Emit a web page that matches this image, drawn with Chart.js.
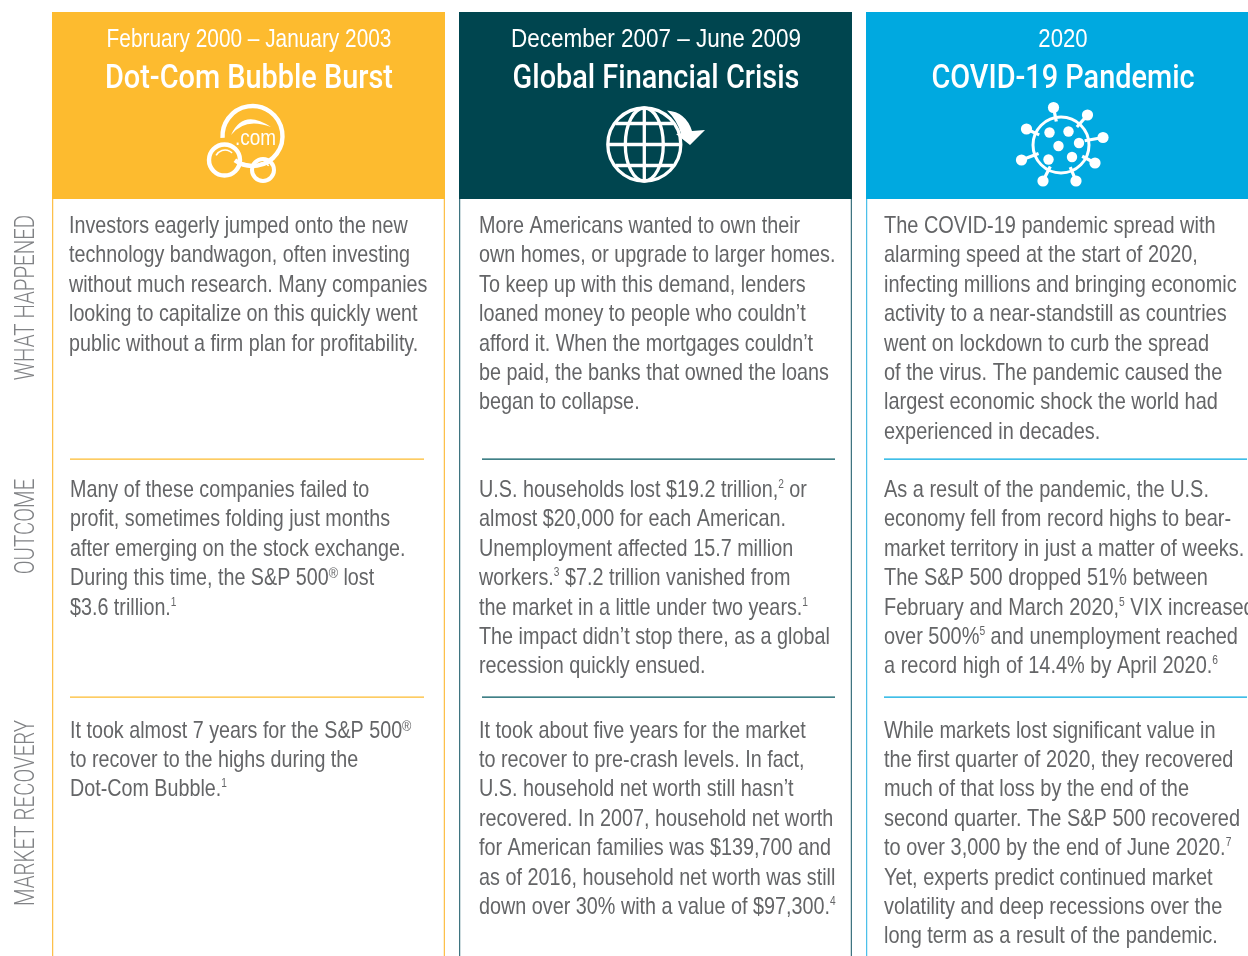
<!DOCTYPE html>
<html>
<head>
<meta charset="utf-8">
<title>Market crises compared</title>
<script src="https://cdn.jsdelivr.net/npm/chart.js@4/dist/chart.umd.js"></script>
<style>
  html, body { margin: 0; padding: 0; background: #fff; overflow: hidden; width: 1248px; height: 956px; }
  #wrap { width: 1266px; height: 956px; position: relative; }
</style>
</head>
<body>
<div id="wrap"><canvas id="crisisChart" width="1266" height="956"></canvas></div>
<script>
const crises = ['Dot-Com Bubble Burst', 'Global Financial Crisis', 'COVID-19 Pandemic'];
const periods = ['February 2000 \u2013 January 2003', 'December 2007 \u2013 June 2009', '2020'];
const rowLabels = ['WHAT HAPPENED', 'OUTCOME', 'MARKET RECOVERY'];

// row heights, same for each column
const headerRow = [187, 187, 187];
const happenedRow = [260, 260, 260];
const outcomeRow = [238, 238, 238];
const recoveryRow = [259, 259, 259];

// ^n^ marks a superscript
const happenedText = [
    ['Investors eagerly jumped onto the new', 'technology bandwagon, often investing', 'without much research. Many companies', 'looking to capitalize on this quickly went', 'public without a firm plan for profitability.'],
    ['More Americans wanted to own their', 'own homes, or upgrade to larger homes.', 'To keep up with this demand, lenders', 'loaned money to people who couldn\u2019t', 'afford it. When the mortgages couldn\u2019t', 'be paid, the banks that owned the loans', 'began to collapse.'],
    ['The COVID-19 pandemic spread with', 'alarming speed at the start of 2020,', 'infecting millions and bringing economic', 'activity to a near-standstill as countries', 'went on lockdown to curb the spread', 'of the virus. The pandemic caused the', 'largest economic shock the world had', 'experienced in decades.']
];
const outcomeText = [
    ['Many of these companies failed to', 'profit, sometimes folding just months', 'after emerging on the stock exchange.', 'During this time, the S&P 500^\u00ae^ lost', '$3.6 trillion.^1^'],
    ['U.S. households lost $19.2 trillion,^2^ or', 'almost $20,000 for each American.', 'Unemployment affected 15.7 million', 'workers.^3^ $7.2 trillion vanished from', 'the market in a little under two years.^1^', 'The impact didn\u2019t stop there, as a global', 'recession quickly ensued.'],
    ['As a result of the pandemic, the U.S.', 'economy fell from record highs to bear-', 'market territory in just a matter of weeks.', 'The S&P 500 dropped 51% between', 'February and March 2020,^5^ VIX increased', 'over 500%^5^ and unemployment reached', 'a record high of 14.4% by April 2020.^6^']
];
const recoveryText = [
    ['It took almost 7 years for the S&P 500^\u00ae^', 'to recover to the highs during the', 'Dot-Com Bubble.^1^'],
    ['It took about five years for the market', 'to recover to pre-crash levels. In fact,', 'U.S. household net worth still hasn\u2019t', 'recovered. In 2007, household net worth', 'for American families was $139,700 and', 'as of 2016, household net worth was still', 'down over 30% with a value of $97,300.^4^'],
    ['While markets lost significant value in', 'the first quarter of 2020, they recovered', 'much of that loss by the end of the', 'second quarter. The S&P 500 recovered', 'to over 3,000 by the end of June 2020.^7^', 'Yet, experts predict continued market', 'volatility and deep recessions over the', 'long term as a result of the pandemic.']
];

const headColors = ['#fdbb2f', '#00454f', '#00a9e0'];
const edgeColors = ['#fdc04a', '#3f7480', '#4cc0ea'];
const ruleColors = ['#fdbb2f', '#00565f', '#00a9e0'];
const FONT = '"Liberation Sans", Arial, sans-serif';
const HEAD_FONT = 'Roboto, "Liberation Sans", sans-serif';
const BODY_COLOR = '#646567';
const LINE_H = 29.4;
const BODY_X = [[69, 479, 884], [70, 479, 884], [70, 479, 884]];
const RULE_X = [[70, 424], [482, 835], [884, 1247]];
const BODY_SX = [0.843, 0.846, 0.853];
const PERIOD_SX = [0.833, 0.9, 0.886];

function drawScaled(ctx, text, x, y, font, color, sx) {
    ctx.save();
    ctx.translate(x, y);
    ctx.scale(sx, 1);
    ctx.font = font;
    ctx.fillStyle = color;
    ctx.textAlign = 'left';
    ctx.textBaseline = 'alphabetic';
    ctx.fillText(text, 0, 0);
    ctx.restore();
}

function drawCentered(ctx, text, cx, y, font, color, sx) {
    ctx.save();
    ctx.font = font;
    const w = ctx.measureText(text).width * sx;
    ctx.restore();
    drawScaled(ctx, text, cx - w / 2, y, font, color, sx);
}

function drawLine(ctx, line, x, y, sx) {
    const font = '23.4px ' + FONT;
    let pos = x;
    line.split('^').forEach((part, i) => {
        if (!part) return;
        const sup = i % 2 === 1;
        const reg = part === '\u00ae';
        const useFont = sup ? (reg ? '15px ' : '12px ') + FONT : font;
        ctx.save();
        ctx.font = useFont;
        const w = ctx.measureText(part).width * sx;
        ctx.restore();
        drawScaled(ctx, part, pos, sup ? y - (reg ? 7 : 9) : y, useFont, BODY_COLOR, sx);
        pos += w;
    });
}

function iconDotCom(ctx) {
    ctx.strokeStyle = '#fff';
    ctx.fillStyle = '#fff';
    ctx.lineCap = 'butt';
    ctx.lineWidth = 4.4;
    ctx.beginPath();
    ctx.arc(252.5, 136, 30, 2.2, Math.PI * 0.98, true);
    ctx.stroke();
    ctx.lineWidth = 4.4;
    ctx.beginPath();
    ctx.arc(224.5, 160, 15.5, 0, Math.PI * 2);
    ctx.stroke();
    ctx.lineWidth = 4;
    ctx.beginPath();
    ctx.arc(263, 170, 11, 0, Math.PI * 2);
    ctx.stroke();
    ctx.lineWidth = 3.5;
    ctx.beginPath();
    ctx.moveTo(240, 163.5);
    ctx.lineTo(252, 166);
    ctx.stroke();
    // highlights
    ctx.beginPath();
    ctx.moveTo(231, 135);
    ctx.quadraticCurveTo(243, 108, 271, 127);
    ctx.quadraticCurveTo(245, 117, 231, 135);
    ctx.fill();
    ctx.lineWidth = 1.6;
    ctx.beginPath();
    ctx.arc(225, 160, 10, Math.PI * 1.15, Math.PI * 1.75);
    ctx.stroke();
    ctx.beginPath();
    ctx.arc(263, 170, 7, Math.PI * 1.2, Math.PI * 1.8);
    ctx.stroke();
    drawScaled(ctx, '.com', 235, 145, '22px ' + FONT, '#fff', 0.86);
}

function iconGlobe(ctx) {
    const cx = 644.3, cy = 144.5, r = 36.5;
    ctx.strokeStyle = '#fff';
    ctx.fillStyle = '#fff';
    ctx.lineWidth = 3.3;
    ctx.beginPath();
    ctx.arc(cx, cy, r, 0, Math.PI * 2);
    ctx.stroke();
    ctx.beginPath();
    ctx.ellipse(cx, cy, 19, r, 0, 0, Math.PI * 2);
    ctx.stroke();
    ctx.beginPath();
    ctx.moveTo(cx, cy - r); ctx.lineTo(cx, cy + r);
    ctx.moveTo(cx - r, cy); ctx.lineTo(cx + r, cy);
    ctx.moveTo(cx - 29, cy - 21); ctx.lineTo(cx + 29, cy - 21);
    ctx.moveTo(cx - 29, cy + 21); ctx.lineTo(cx + 29, cy + 21);
    ctx.stroke();
    // arrow
    ctx.beginPath();
    ctx.moveTo(667, 110.5);
    ctx.quadraticCurveTo(686, 112, 692, 131);
    ctx.lineTo(705, 130);
    ctx.lineTo(690, 145);
    ctx.lineTo(676, 134);
    ctx.lineTo(681, 133.5);
    ctx.quadraticCurveTo(677, 120, 667, 110.5);
    ctx.fill();
}

function iconVirus(ctx) {
    const cx = 1061, cy = 145;
    const balls = [[1053.5, 107.5], [1087.5, 115], [1103, 137.5], [1095, 163], [1076, 181], [1043, 181], [1021.5, 160], [1026.5, 129]];
    const spots = [[1049.5, 132.5], [1068.5, 131.5], [1058.5, 146], [1079, 143], [1048.5, 159.5], [1072, 157]];
    ctx.strokeStyle = '#fff';
    ctx.fillStyle = '#fff';
    ctx.lineWidth = 3;
    ctx.beginPath();
    ctx.arc(cx, cy, 28, 0, Math.PI * 2);
    ctx.stroke();
    balls.forEach(b => {
        const a = Math.atan2(b[1] - cy, b[0] - cx);
        const px = cx + Math.cos(a) * 24, py = cy + Math.sin(a) * 24;
        ctx.lineWidth = 3.2;
        ctx.beginPath();
        ctx.moveTo(px, py);
        ctx.lineTo(b[0], b[1]);
        ctx.stroke();
        ctx.beginPath();
        ctx.arc(b[0], b[1], 5.6, 0, Math.PI * 2);
        ctx.fill();
    });
    spots.forEach(s => {
        ctx.beginPath();
        ctx.arc(s[0], s[1], 5.2, 0, Math.PI * 2);
        ctx.fill();
    });
}

// rules, row titles, header text and cell text all hang off the chart scales
const panelText = {
    id: 'panelText',
    afterDatasetsDraw(chart) {
        const ctx = chart.ctx;
        const yScale = chart.scales.y;
        const xScale = chart.scales.x;
        const ruleRows = [headerRow[0] + happenedRow[0], headerRow[0] + happenedRow[0] + outcomeRow[0]];

        crises.forEach((name, i) => {
            const cx = xScale.getPixelForValue(i);
            drawCentered(ctx, periods[i], cx + 0.5, 46.5, '25px ' + FONT, '#fff', PERIOD_SX[i]);
            drawCentered(ctx, name, cx + 0.5, 88, '500 33.5px ' + HEAD_FONT, '#fff', 0.862);

            ruleRows.forEach(v => {
                const y = yScale.getPixelForValue(v) + 0.2;
                ctx.strokeStyle = ruleColors[i];
                ctx.lineWidth = 1.3;
                ctx.beginPath();
                ctx.moveTo(RULE_X[i][0], y);
                ctx.lineTo(RULE_X[i][1], y);
                ctx.stroke();
            });

            happenedText[i].forEach((l, n) => drawLine(ctx, l, BODY_X[0][i], 233 + n * LINE_H, BODY_SX[i]));
            outcomeText[i].forEach((l, n) => drawLine(ctx, l, BODY_X[1][i], 497 + n * LINE_H, BODY_SX[i]));
            recoveryText[i].forEach((l, n) => drawLine(ctx, l, BODY_X[2][i], 737.5 + n * LINE_H, BODY_SX[i]));
        });

        iconDotCom(ctx);
        iconGlobe(ctx);
        iconVirus(ctx);

        const labelCenters = [297.5, 526.5, 813];
        rowLabels.forEach((t, i) => {
            ctx.save();
            ctx.translate(33.5, labelCenters[i]);
            ctx.rotate(-Math.PI / 2);
            drawCentered(ctx, t, 0, 0, '300 27px ' + HEAD_FONT, '#808285', 0.757);
            ctx.restore();
        });
    }
};

const columnBar = {
    stack: 'col',
    borderSkipped: false,
    inflateAmount: 0,
    barThickness: 393
};

new Chart(document.getElementById('crisisChart').getContext('2d'), {
    type: 'bar',
    data: {
        labels: crises,
        datasets: [
            { ...columnBar, label: 'Header', data: headerRow, backgroundColor: headColors, borderWidth: 0 },
            { ...columnBar, label: rowLabels[0], data: happenedRow, backgroundColor: '#fff', borderColor: edgeColors, borderWidth: { left: 1.5, right: 1.5, top: 0, bottom: 0 } },
            { ...columnBar, label: rowLabels[1], data: outcomeRow, backgroundColor: '#fff', borderColor: edgeColors, borderWidth: { left: 1.5, right: 1.5, top: 0, bottom: 0 } },
            { ...columnBar, label: rowLabels[2], data: recoveryRow, backgroundColor: '#fff', borderColor: edgeColors, borderWidth: { left: 1.5, right: 1.5, top: 0, bottom: 0 } }
        ]
    },
    options: {
        responsive: false,
        animation: false,
        layout: { padding: { left: 45, right: 0, top: 12, bottom: 0 } },
        plugins: { legend: { display: false }, tooltip: { enabled: false }, title: { display: false } },
        scales: {
            x: { display: false, stacked: true, grid: { display: false } },
            y: { display: false, stacked: true, reverse: true, min: 0, max: 944, grid: { display: false } }
        }
    },
    plugins: [panelText]
});
</script>
</body>
</html>
